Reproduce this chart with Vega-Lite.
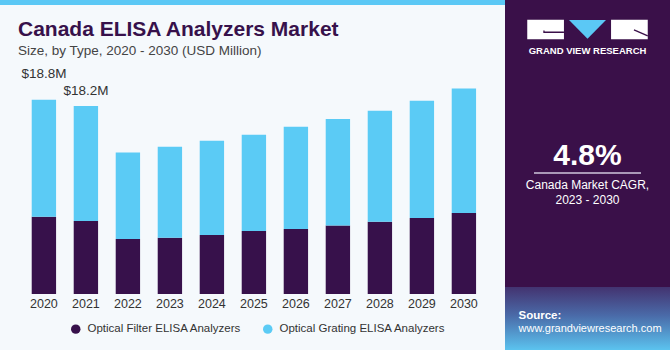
{
  "$schema": "https://vega.github.io/schema/vega-lite/v6.json",
  "background": "#f5f9fc",
  "padding": 0,
  "config": {"view": {"stroke": null}, "font": "Liberation Sans"},
  "datasets": {
    "bars": [
      {"year": "2020", "type": "Optical Filter ELISA Analyzers", "value": 7.48},
      {"year": "2020", "type": "Optical Grating ELISA Analyzers", "value": 11.32},
      {"year": "2021", "type": "Optical Filter ELISA Analyzers", "value": 7.06},
      {"year": "2021", "type": "Optical Grating ELISA Analyzers", "value": 11.14},
      {"year": "2022", "type": "Optical Filter ELISA Analyzers", "value": 5.32},
      {"year": "2022", "type": "Optical Grating ELISA Analyzers", "value": 8.38},
      {"year": "2023", "type": "Optical Filter ELISA Analyzers", "value": 5.45},
      {"year": "2023", "type": "Optical Grating ELISA Analyzers", "value": 8.80},
      {"year": "2024", "type": "Optical Filter ELISA Analyzers", "value": 5.71},
      {"year": "2024", "type": "Optical Grating ELISA Analyzers", "value": 9.12},
      {"year": "2025", "type": "Optical Filter ELISA Analyzers", "value": 6.10},
      {"year": "2025", "type": "Optical Grating ELISA Analyzers", "value": 9.31},
      {"year": "2026", "type": "Optical Filter ELISA Analyzers", "value": 6.29},
      {"year": "2026", "type": "Optical Grating ELISA Analyzers", "value": 9.90},
      {"year": "2027", "type": "Optical Filter ELISA Analyzers", "value": 6.64},
      {"year": "2027", "type": "Optical Grating ELISA Analyzers", "value": 10.29},
      {"year": "2028", "type": "Optical Filter ELISA Analyzers", "value": 7.00},
      {"year": "2028", "type": "Optical Grating ELISA Analyzers", "value": 10.74},
      {"year": "2029", "type": "Optical Filter ELISA Analyzers", "value": 7.35},
      {"year": "2029", "type": "Optical Grating ELISA Analyzers", "value": 11.35},
      {"year": "2030", "type": "Optical Filter ELISA Analyzers", "value": 7.84},
      {"year": "2030", "type": "Optical Grating ELISA Analyzers", "value": 12.05}
    ],
    "labels": [
      {"year": "2020", "total": 18.8, "label": "$18.8M"},
      {"year": "2021", "total": 18.2, "label": "$18.2M"}
    ],
    "logo": [{"part": "l"}, {"part": "m"}, {"part": "r"}]
  },
  "spacing": 0,
  "hconcat": [
    {
      "spacing": 14,
      "vconcat": [
        {
          "width": 505,
          "height": 5,
          "data": {"values": [{}]},
          "mark": {"type": "rect", "color": "#5bc8f5"},
          "encoding": {}
        },
        {
          "width": 505,
          "height": 233,
          "title": {
            "text": "Canada ELISA Analyzers Market",
            "subtitle": "Size, by Type, 2020 - 2030 (USD Million)",
            "anchor": "start",
            "frame": "group",
            "dx": 18,
            "font": "Liberation Sans",
            "fontSize": 21,
            "fontWeight": "bold",
            "color": "#37114b",
            "subtitleFont": "Liberation Sans",
            "subtitleFontSize": 13.5,
            "subtitleColor": "#444444",
            "subtitlePadding": 4,
            "offset": 3.5
          },
          "layer": [
            {
              "data": {"name": "bars"},
              "mark": {"type": "bar"},
              "encoding": {
                "x": {
                  "field": "year",
                  "type": "ordinal",
                  "scale": {"paddingInner": 0.42, "paddingOuter": 0.722, "align": 0.523},
                  "axis": {"title": null, "labelFontSize": 12.5, "labelColor": "#333333", "ticks": false, "domain": false, "labelPadding": 3, "labelAngle": 0, "grid": false}
                },
                "y": {"field": "value", "type": "quantitative", "stack": "zero", "scale": {"domain": [0, 22.545], "nice": false}, "axis": null},
                "order": {"field": "type", "sort": "ascending"},
                "color": {
                  "field": "type",
                  "type": "nominal",
                  "scale": {"domain": ["Optical Filter ELISA Analyzers", "Optical Grating ELISA Analyzers"], "range": ["#37114b", "#5bcbf5"]},
                  "legend": {"orient": "none", "legendX": 70, "legendY": 323, "direction": "horizontal", "title": null, "symbolType": "circle", "symbolSize": 90, "symbolOpacity": 1, "symbolStrokeWidth": 0, "labelFontSize": 11.5, "labelColor": "#333333", "labelLimit": 400, "columnPadding": 20, "labelOffset": 6}
                }
              }
            },
            {
              "data": {"name": "labels"},
              "transform": [{"filter": "datum.year == '2020'"}],
              "mark": {"type": "text", "dy": -26, "fontSize": 13.5, "color": "#333333"},
              "encoding": {
                "x": {"field": "year", "type": "ordinal"},
                "y": {"field": "total", "type": "quantitative"},
                "text": {"field": "label"}
              }
            },
            {
              "data": {"name": "labels"},
              "transform": [{"filter": "datum.year == '2021'"}],
              "mark": {"type": "text", "dy": -15, "fontSize": 13.5, "color": "#333333"},
              "encoding": {
                "x": {"field": "year", "type": "ordinal"},
                "y": {"field": "total", "type": "quantitative"},
                "text": {"field": "label"}
              }
            }
          ]
        }
      ]
    },
    {
      "spacing": 0,
      "vconcat": [
        {
          "width": 165,
          "height": 59,
          "view": {"fill": "#3a1049", "stroke": null},
          "layer": [
            {
              "data": {"name": "logo"},
              "transform": [{"filter": "datum.part != 'm'"}],
              "mark": {"type": "point", "shape": "M-1,-0.526H1V0.526H-1Z", "filled": true, "color": "#ffffff", "opacity": 1, "size": 1347},
              "encoding": {"x": {"field": "part", "type": "nominal", "scale": {"type": "point", "domain": ["l", "m", "r"], "padding": 0.969}, "axis": null}}
            },
            {
              "data": {"name": "logo"},
              "transform": [{"filter": "datum.part == 'm'"}],
              "mark": {"type": "point", "shape": "M-1,-0.52H1L0,0.5Z", "filled": true, "color": "#5bc8f5", "opacity": 1, "size": 1369},
              "encoding": {"x": {"field": "part", "type": "nominal", "axis": null}}
            },
            {
              "data": {"name": "logo"},
              "transform": [{"filter": "datum.part != 'm'"}],
              "mark": {"type": "point", "filled": false, "stroke": "#3a1049", "strokeWidth": 1.3, "opacity": 1, "size": 1347},
              "encoding": {
                "x": {"field": "part", "type": "nominal", "axis": null},
                "shape": {"field": "part", "type": "nominal", "scale": {"domain": ["l", "r"], "range": ["M-0.09,0.05V0.15H1", "M0.25,0.02L1,0.35"]}, "legend": null}
              }
            },
            {
              "data": {"values": [{"t": "GRAND VIEW RESEARCH"}]},
              "mark": {"type": "text", "dy": 21.5, "fontSize": 9.5, "fontWeight": "bold", "color": "#ffffff"},
              "encoding": {"text": {"field": "t"}}
            }
          ]
        },
        {
          "width": 165,
          "height": 228,
          "view": {"fill": "#3a1049", "stroke": null},
          "layer": [
            {
              "data": {"values": [{"t": "4.8%"}]},
              "mark": {"type": "text", "dy": -17.5, "fontSize": 30, "fontWeight": "bold", "color": "#ffffff"},
              "encoding": {"text": {"field": "t"}}
            },
            {
              "data": {"values": [{"t": "rule"}]},
              "mark": {"type": "point", "shape": "M-1,0H1", "filled": false, "stroke": "#cfc6dd", "strokeWidth": 1.5, "opacity": 1, "size": 11449},
              "encoding": {}
            },
            {
              "data": {"values": [{"t": "Canada Market CAGR,"}]},
              "mark": {"type": "text", "dy": 12, "fontSize": 12, "color": "#ffffff"},
              "encoding": {"text": {"field": "t"}}
            },
            {
              "data": {"values": [{"t": "2023 - 2030"}]},
              "mark": {"type": "text", "dy": 27, "fontSize": 12, "color": "#ffffff"},
              "encoding": {"text": {"field": "t"}}
            }
          ]
        },
        {
          "width": 165,
          "height": 63,
          "layer": [
            {
              "data": {"values": [{}]},
              "mark": {
                "type": "rect",
                "color": {"gradient": "linear", "x1": 0, "y1": 0, "x2": 0, "y2": 1, "stops": [{"offset": 0, "color": "#433370"}, {"offset": 0.45, "color": "#4a6aa8"}, {"offset": 1, "color": "#5bc3ef"}]}
              },
              "encoding": {}
            },
            {
              "data": {"values": [{"t": "Source:"}]},
              "mark": {"type": "text", "align": "left", "dx": -69, "dy": -3, "fontSize": 11.5, "fontWeight": "bold", "color": "#ffffff"},
              "encoding": {"text": {"field": "t"}}
            },
            {
              "data": {"values": [{"t": "www.grandviewresearch.com"}]},
              "mark": {"type": "text", "align": "left", "dx": -69, "dy": 10.5, "fontSize": 11, "color": "#ffffff"},
              "encoding": {"text": {"field": "t"}}
            }
          ]
        }
      ]
    }
  ]
}
